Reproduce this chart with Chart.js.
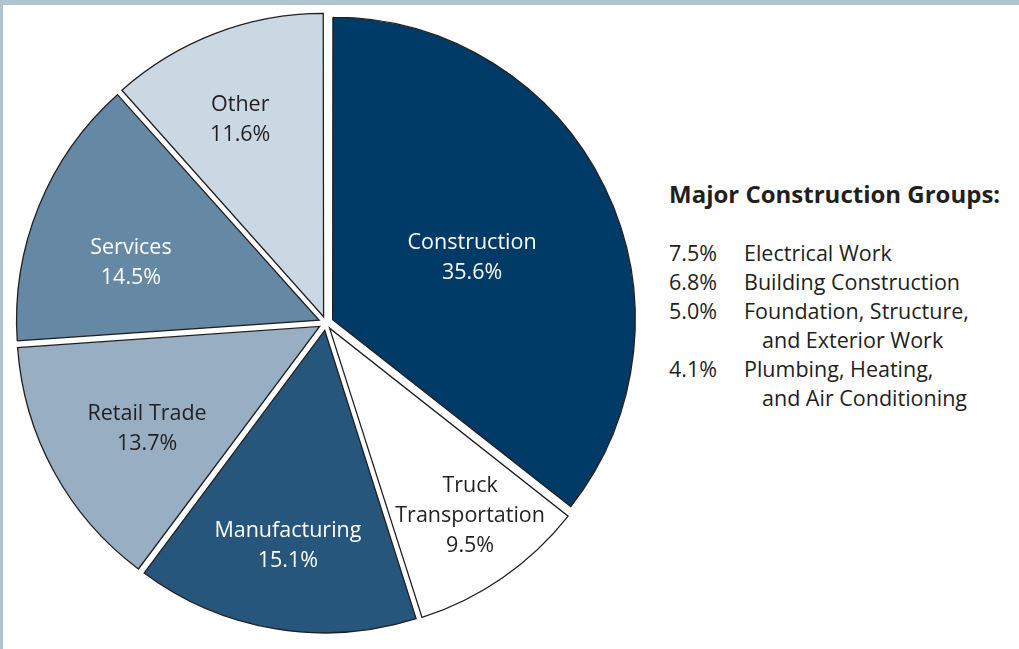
<!DOCTYPE html>
<html>
<head>
<meta charset="utf-8">
<script src="https://cdn.jsdelivr.net/npm/chart.js@4.4.0/dist/chart.umd.min.js"></script>
<style>
    html, body { margin: 0; padding: 0; background: #ffffff; }
    body { width: 1019px; height: 649px; position: relative; overflow: hidden; font-family: "Open Sans", sans-serif; color: #231f20; }
    #topBar { position: absolute; left: 0; top: 0; width: 1019px; height: 5px; background: #b0c4d2; }
    #leftBar { position: absolute; left: 0; top: 0; width: 3px; height: 649px; background: #b0c4d2; }
    #pieWrap { position: absolute; left: 0; top: 0; width: 652px; height: 646px; }
    #groups { position: absolute; left: 669px; top: 176px; }
    #groups h3 { margin: 0 0 26px 0; font-size: 24px; font-weight: 700; line-height: 36px; white-space: nowrap; }
    .row { display: flex; font-size: 21.5px; line-height: 29px; white-space: nowrap; }
    .pct { width: 75px; }
    .name span { display: block; padding-left: 18px; }
    .name span:first-child { padding-left: 0; }
</style>
</head>
<body>
<div id="topBar"></div>
<div id="leftBar"></div>
<div id="pieWrap"><canvas id="sharePie" width="652" height="646"></canvas></div>
<div id="groups"></div>

<script>
// industry shares, clockwise from 12 o'clock
const industries = ['Construction', 'Truck\nTransportation', 'Manufacturing', 'Retail Trade', 'Services', 'Other'];
const shares = [35.6, 9.5, 15.1, 13.7, 14.5, 11.6];

// breakdown of the construction slice
const groupsTitle = 'Major Construction Groups:';
const groupShares = [7.5, 6.8, 5.0, 4.1];
const groupNames = ['Electrical Work', 'Building Construction', 'Foundation, Structure,\nand Exterior Work', 'Plumbing, Heating,\nand Air Conditioning'];

const sliceColors = ['#003a66', '#ffffff', '#27567c', '#98afc3', '#6589a5', '#cad8e3'];
const textColors = ['#ffffff', '#231f20', '#ffffff', '#231f20', '#ffffff', '#231f20'];
// where each label sits: share of the radius, and a small turn (degrees) off the slice middle
const labelDist = [0.504, 0.765, 0.718, 0.658, 0.650, 0.706];
const labelTurn = [1.3, -2.3, 0.2, -1.6, -4.5, -1.9];
const explode = 9; // px each slice is pushed out

document.addEventListener("DOMContentLoaded", () => {
    const box = document.getElementById("groups");
    const title = document.createElement("h3");
    title.textContent = groupsTitle;
    box.appendChild(title);
    groupShares.forEach((v, i) => {
        const row = document.createElement("div");
        row.className = "row";
        const pct = document.createElement("div");
        pct.className = "pct";
        pct.textContent = v.toFixed(1) + '%';
        const name = document.createElement("div");
        name.className = "name";
        groupNames[i].split('\n').forEach(part => {
            const s = document.createElement("span");
            s.textContent = part;
            name.appendChild(s);
        });
        row.appendChild(pct);
        row.appendChild(name);
        box.appendChild(row);
    });

    const total = shares.reduce((a, b) => a + b, 0);

    // chart.js moves an arc by offset/4 * (2 - sin(angle)), undo that so every slice moves the same distance
    function sliceOffset(ctx) {
        const circ = ctx.raw / total * Math.PI * 2;
        return 4 * explode / (2 - Math.sin(Math.min(Math.PI, circ)));
    }

    const sliceLabels = {
        id: 'sliceLabels',
        afterDatasetsDraw(chart) {
            const c = chart.ctx;
            const meta = chart.getDatasetMeta(0);
            c.save();
            c.font = '21.5px "Open Sans", sans-serif';
            c.textAlign = 'center';
            c.textBaseline = 'middle';
            meta.data.forEach((arc, i) => {
                const p = arc.getProps(['x', 'y', 'startAngle', 'endAngle', 'outerRadius'], true);
                const mid = (p.startAngle + p.endAngle) / 2 + labelTurn[i] * Math.PI / 180;
                const r = p.outerRadius * labelDist[i] + explode;
                const cx = p.x + Math.cos(mid) * r;
                const cy = p.y + Math.sin(mid) * r + 1.5;
                const lines = industries[i].split('\n').concat([shares[i].toFixed(1) + '%']);
                const lh = 30;
                c.fillStyle = textColors[i];
                lines.forEach((t, k) => {
                    c.fillText(t, cx, cy + (k - (lines.length - 1) / 2) * lh);
                });
            });
            c.restore();
        }
    };

    const ctx = document.getElementById('sharePie').getContext('2d');
    new Chart(ctx, {
        type: 'pie',
        data: {
            labels: industries,
            datasets: [{
                data: shares,
                backgroundColor: sliceColors,
                borderColor: '#231f20',
                borderWidth: 1.3,
                borderJoinStyle: 'miter',
                offset: sliceOffset,
                hoverOffset: 0,
            }]
        },
        options: {
            responsive: false,
            animation: false,
            radius: 301,
            layout: { padding: 0 },
            plugins: {
                legend: { display: false },
                tooltip: { enabled: false },
            }
        },
        plugins: [sliceLabels]
    });
});
</script>
</body>
</html>
